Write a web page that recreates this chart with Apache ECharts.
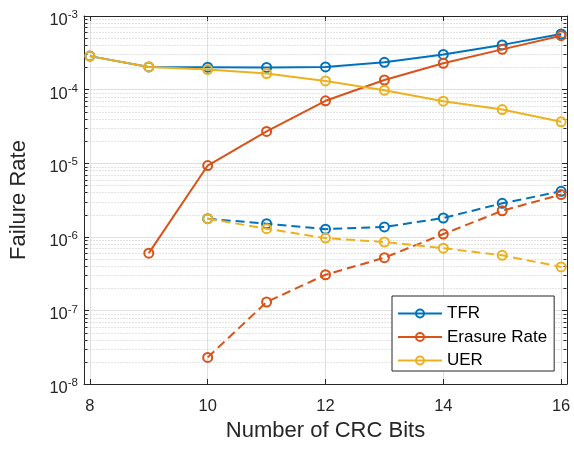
<!DOCTYPE html>
<html>
<head>
<meta charset="utf-8">
<script src="https://cdn.jsdelivr.net/npm/echarts@6/dist/echarts.min.js"></script>
<style>
html,body{margin:0;padding:0;background:#fff;}
#chart{width:574px;height:449px;}
</style>
</head>
<body>
<div id="chart"></div>
<script>
// ---- data ----
const crcBits = [8, 9, 10, 11, 12, 13, 14, 15, 16];
const tfrSolid = [2.85e-4, 2.03e-4, 2.02e-4, 2.0e-4, 2.03e-4, 2.35e-4, 3.0e-4, 4.05e-4, 5.7e-4];
const erasureSolid = [null, 6.0e-7, 9.3e-6, 2.7e-5, 7.05e-5, 1.35e-4, 2.28e-4, 3.52e-4, 5.4e-4];
const uerSolid = [2.85e-4, 2.03e-4, 1.87e-4, 1.65e-4, 1.31e-4, 9.8e-5, 6.95e-5, 5.35e-5, 3.65e-5];

const crcBitsDashed = [10, 11, 12, 13, 14, 15, 16];
const tfrDashed = [1.76e-6, 1.51e-6, 1.27e-6, 1.36e-6, 1.80e-6, 2.85e-6, 4.15e-6];
const erasureDashed = [2.3e-8, 1.3e-7, 3.05e-7, 5.2e-7, 1.09e-6, 2.26e-6, 3.75e-6];
const uerDashed = [1.76e-6, 1.29e-6, 9.6e-7, 8.5e-7, 7.0e-7, 5.6e-7, 3.9e-7];

const seriesNames = ['TFR', 'Erasure Rate', 'UER'];
const xTickValues = [8, 10, 12, 14, 16];

// ---- style ----
const colors = ['#0072BD', '#D95319', '#EDB120'];
const axisColor = '#262626';
const FONT = '"Liberation Sans", Arial, Helvetica, sans-serif';
const X_MIN = 7.9, X_MAX = 16.1;

function pairs(xs, ys) {
  const out = [];
  for (let i = 0; i < xs.length; i++) if (ys[i] != null) out.push([xs[i], ys[i]]);
  return out;
}

// minor grid values (2..9 x 10^n)
const minorVals = [];
for (let e = -8; e < -3; e++) for (let k = 2; k <= 9; k++) minorVals.push(k * Math.pow(10, e));

function makeSeries(name, xs, ys, color, dashed, z) {
  return {
    name: name,
    type: 'line',
    data: pairs(xs, ys),
    symbol: 'circle',
    symbolSize: 9,
    showSymbol: true,
    z: z,
    lineStyle: { color: color, width: 2, type: dashed ? [9, 5] : 'solid' },
    itemStyle: { color: 'rgba(255,255,255,0)', borderColor: color, borderWidth: 2 },
    emphasis: { disabled: true },
    silent: true
  };
}

function minorRender(params, api) {
  const v = api.value(1);
  const p1 = api.coord([X_MIN, v]);
  const p2 = api.coord([X_MAX, v]);
  const y = Math.round(p1[1]) + 0.5;
  const xl = Math.round(p1[0]) + 0.5;
  const xr = Math.round(p2[0]) - 0.5;
  return {
    type: 'group',
    children: [
      { type: 'line', z2: 0, shape: { x1: xl, y1: y, x2: xr, y2: y },
        style: { stroke: '#c8c8c8', lineWidth: 1, lineDash: [1, 2] } },
      { type: 'line', z2: 1, shape: { x1: xl, y1: y, x2: xl + 3, y2: y },
        style: { stroke: axisColor, lineWidth: 1 } },
      { type: 'line', z2: 1, shape: { x1: xr - 3, y1: y, x2: xr, y2: y },
        style: { stroke: axisColor, lineWidth: 1 } }
    ]
  };
}

const series = [
  {
    name: 'minorGrid',
    type: 'custom',
    silent: true,
    z: 1,
    data: minorVals.map(v => [X_MIN, v]),
    encode: { x: 0, y: 1 },
    renderItem: minorRender,
    clip: false
  },
  makeSeries('TFR', crcBits, tfrSolid, colors[0], false, 10),
  makeSeries('Erasure Rate', crcBits, erasureSolid, colors[1], false, 11),
  makeSeries('UER', crcBits, uerSolid, colors[2], false, 12),
  makeSeries('TFR dashed', crcBitsDashed, tfrDashed, colors[0], true, 13),
  makeSeries('Erasure Rate dashed', crcBitsDashed, erasureDashed, colors[1], true, 14),
  makeSeries('UER dashed', crcBitsDashed, uerDashed, colors[2], true, 15)
];

const chart = echarts.init(document.getElementById('chart'), null, { renderer: 'canvas' });

const yLabelFormatter = v => '{b|10}{s|' + Math.round(Math.log10(v)) + '}';

chart.setOption({
  animation: false,
  backgroundColor: '#ffffff',
  textStyle: { fontFamily: FONT },
  grid: { left: 83, right: 7, top: 16, bottom: 65, containLabel: false },
  legend: {
    data: seriesNames,
    orient: 'vertical',
    left: 392,
    top: 296,
    padding: [9, 7, 2, 5],
    itemGap: 6.5,
    itemWidth: 44,
    itemHeight: 10,
    backgroundColor: '#ffffff',
    borderColor: axisColor,
    borderWidth: 1,
    borderRadius: 0,
    selectedMode: false,
    textStyle: { fontFamily: FONT, fontSize: 17, color: '#000000' }
  },
  xAxis: [
    {
      type: 'value',
      min: X_MIN,
      max: X_MAX,
      position: 'bottom',
      name: 'Number of CRC Bits',
      nameLocation: 'middle',
      nameGap: 33,
      nameTextStyle: { fontFamily: FONT, fontSize: 22, color: axisColor },
      axisLine: { show: true, onZero: false, lineStyle: { color: axisColor, width: 1 } },
      axisTick: { show: true, inside: true, length: 5, customValues: xTickValues, lineStyle: { color: axisColor } },
      axisLabel: { show: true, customValues: xTickValues, margin: 14, fontSize: 16.5, color: axisColor, fontFamily: FONT },
      splitLine: { show: true, lineStyle: { color: '#e0e0e0', width: 1 } }
    },
    {
      type: 'value',
      min: X_MIN,
      max: X_MAX,
      position: 'top',
      axisLine: { show: true, onZero: false, lineStyle: { color: axisColor, width: 1 } },
      axisTick: { show: true, inside: true, length: 5, customValues: xTickValues, lineStyle: { color: axisColor } },
      axisLabel: { show: false },
      splitLine: { show: false }
    }
  ],
  yAxis: [
    {
      type: 'log',
      logBase: 10,
      min: 1e-8,
      max: 1e-3,
      position: 'left',
      name: 'Failure Rate',
      nameLocation: 'middle',
      nameGap: 54,
      nameTextStyle: { fontFamily: FONT, fontSize: 22, color: axisColor },
      axisLine: { show: true, onZero: false, lineStyle: { color: axisColor, width: 1 } },
      axisTick: { show: true, inside: true, length: 5, lineStyle: { color: axisColor } },
      axisLabel: {
        show: true,
        margin: 6,
        color: axisColor,
        padding: [6, 0, 0, 0],
        formatter: yLabelFormatter,
        rich: {
          b: { fontSize: 16.5, fontFamily: FONT, color: axisColor, verticalAlign: 'bottom' },
          s: { fontSize: 11.5, fontFamily: FONT, color: axisColor, verticalAlign: 'bottom', padding: [0, 0, 8, 0] }
        }
      },
      splitLine: { show: true, lineStyle: { color: '#e0e0e0', width: 1 } }
    },
    {
      type: 'log',
      logBase: 10,
      min: 1e-8,
      max: 1e-3,
      position: 'right',
      axisLine: { show: true, onZero: false, lineStyle: { color: axisColor, width: 1 } },
      axisTick: { show: true, inside: true, length: 5, lineStyle: { color: axisColor } },
      axisLabel: { show: false },
      splitLine: { show: false }
    }
  ],
  series: series
});
</script>
</body>
</html>
